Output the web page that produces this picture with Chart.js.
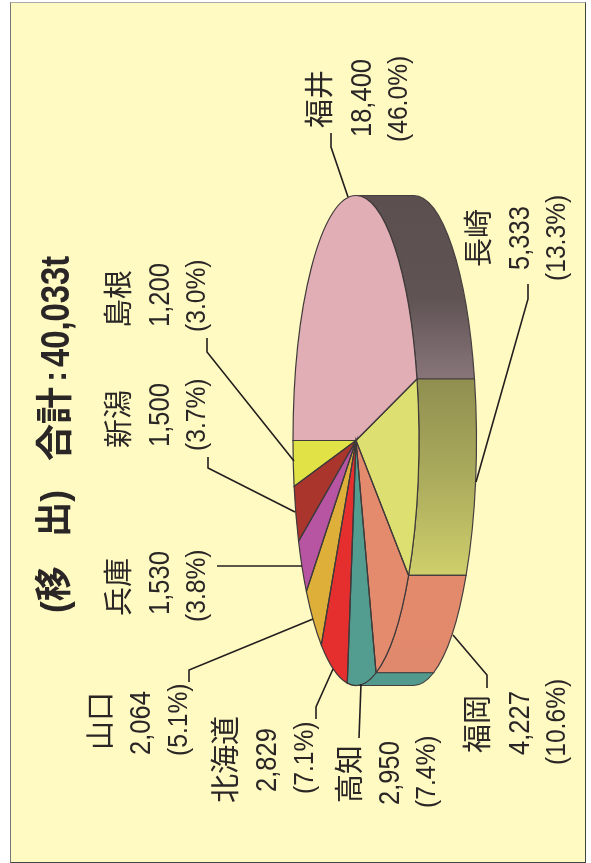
<!DOCTYPE html>
<html lang="ja">
<head>
<meta charset="utf-8">
<title>移出</title>
<script src="https://cdn.jsdelivr.net/npm/chart.js@4/dist/chart.umd.min.js"></script>
<style>
  html, body { margin: 0; padding: 0; background: #fff; width: 591px; height: 863px; overflow: hidden; }
  #marco { position: absolute; left: 10px; top: 2px; width: 574px; height: 859px; background: #fff9c2;
           border: 1px solid #444; border-top-color: #aaa; border-left-color: #777; }
  #grafico { position: absolute; left: 0; top: 0; }
  .t { position: absolute; white-space: nowrap; line-height: 1; color: #2a2626; transform-origin: 0 0;
       font-family: "Liberation Sans", "Noto Sans CJK JP", sans-serif; }
</style>
</head>
<body>
<div id="marco"></div>
<canvas id="grafico" width="591" height="863"></canvas>
<script>
// datos
const prefecturas = ['福井', '長崎', '福岡', '高知', '北海道', '山口', '兵庫', '新潟', '島根'];
const toneladas = [18400, 5333, 4227, 2950, 2829, 2064, 1530, 1500, 1200];
const porcentajes = ['46.0', '13.3', '10.6', '7.4', '7.1', '5.1', '3.8', '3.7', '3.0'];
const coloresTapa = ['#e2aeb5', '#dde070', '#e58b6d', '#539d90', '#e42f2e', '#deb03a', '#b855a2', '#aa352d', '#e0e245'];
const coloresLado = [
    ['#5b4f4f', '#5f5353', '#88757a'],
    ['#908f50', '#aeae5e', '#cfcf6c'],
    ['#e48a6c', '#e38a6c', '#df886c'],
    ['#529a8d', '#529a8d', '#529a8d']
];

// geometria del pastel (elipse girada)
const cx = 356, cy = 440.5, rx = 63, ry = 245, fondo = 57.5;

// x e y de cada columna de texto: nombre, valor, porcentaje, y de arranque
const posTextos = [
    [306, 346, 384, 128, 137, 142],
    [465, 504, 542, 267, 270, 281],
    [464, 504, 542, 753, 755, 765],
    [336, 374, 412, 803, 805, 808],
    [212, 251, 290, 803, 792, 794],
    [87, 125, 164, 750, 755, 756],
    [105, 144, 182, 616, 615, 622],
    [105, 144, 182, 448, 447, 451],
    [105, 144, 182, 328, 327, 332]
];

const guias = [
    [[331, 133], [331, 147], [348, 197]],
    [[528, 284], [528, 299], [476, 482]],
    [[487, 688], [487, 675], [453, 635]],
    [[359, 738], [361, 684]],
    [[316, 719], [316, 707], [333, 669]],
    [[189, 682], [189, 670], [313, 619]],
    [[217, 566], [302, 566]],
    [[208, 457], [208, 468], [295, 512]],
    [[207, 338], [207, 352], [294, 461]]
];

function texto(str, x, y, size, opts) {
    opts = opts || {};
    const d = document.createElement('div');
    d.className = 't';
    d.textContent = str;
    d.style.left = x + 'px';
    d.style.top = y + 'px';
    d.style.fontSize = size + 'px';
    if (opts.weight) d.style.fontWeight = opts.weight;
    d.style.transform = 'rotate(-90deg) scaleX(' + (opts.sx || 1) + ')';
    document.body.appendChild(d);
}

// titulo
texto('(移', 36, 613, 37, { weight: 'bold', sx: 0.95 });
texto('出)', 36, 537, 37, { weight: 'bold', sx: 0.95 });
texto('合計', 37, 461, 37, { weight: 'bold' });
texto(':', 37, 382, 34, { weight: 'bold' });
texto('40,033t', 35, 367, 40, { weight: 'bold', sx: 0.82 });

prefecturas.forEach((p, i) => {
    const q = posTextos[i];
    texto(p, q[0], q[3], 29);
    texto(toneladas[i].toLocaleString('en-US'), q[1], q[4], 30, { sx: 0.85 });
    texto('(' + porcentajes[i] + '%)', q[2], q[5], 28, { sx: 0.88 });
});

const pastel3d = {
    id: 'pastel3d',
    beforeDatasetsDraw(chart) {
        const ctx = chart.ctx;
        const arcos = chart.getDatasetMeta(0).data;
        // paredes del cilindro, solo la mitad derecha se ve
        arcos.forEach((a, i) => {
            const a0 = Math.max(a.startAngle, -Math.PI / 2);
            const a1 = Math.min(a.endAngle, Math.PI / 2);
            if (a1 <= a0 || !coloresLado[i]) return;
            const y0 = cy + ry * Math.sin(a0), y1 = cy + ry * Math.sin(a1);
            const g = ctx.createLinearGradient(0, y0, 0, y1);
            g.addColorStop(0, coloresLado[i][0]);
            g.addColorStop(0.55, coloresLado[i][1]);
            g.addColorStop(1, coloresLado[i][2]);
            ctx.beginPath();
            ctx.ellipse(cx, cy, rx, ry, 0, a0, a1);
            ctx.ellipse(cx + fondo, cy, rx, ry, 0, a1, a0, true);
            ctx.closePath();
            ctx.fillStyle = g;
            ctx.fill();
            ctx.strokeStyle = '#453f3f';
            ctx.lineWidth = 1.2;
            ctx.stroke();
        });
        // la tapa se aplasta desde el circulo que calcula Chart.js
        const r = arcos[0].outerRadius;
        ctx.save();
        ctx.translate(cx, cy);
        ctx.scale(rx / r, ry / r);
        ctx.translate(-arcos[0].x, -arcos[0].y);
    },
    afterDatasetsDraw(chart) {
        const ctx = chart.ctx;
        ctx.restore();
        const arcos = chart.getDatasetMeta(0).data;
        ctx.lineWidth = 1.2;
        arcos.forEach(a => {
            ctx.beginPath();
            ctx.moveTo(cx, cy);
            ctx.ellipse(cx, cy, rx, ry, 0, a.startAngle, a.endAngle);
            ctx.closePath();
            ctx.strokeStyle = '#3f3a3a';
            ctx.stroke();
        });
        // lineas guia
        ctx.strokeStyle = '#231f1f';
        ctx.lineWidth = 1.6;
        guias.forEach(g => {
            ctx.beginPath();
            g.forEach((p, i) => i ? ctx.lineTo(p[0], p[1]) : ctx.moveTo(p[0], p[1]));
            ctx.stroke();
        });
    }
};

new Chart(document.getElementById('grafico').getContext('2d'), {
    type: 'pie',
    data: {
        labels: prefecturas,
        datasets: [{ data: toneladas, backgroundColor: coloresTapa, borderWidth: 0 }]
    },
    options: {
        responsive: false,
        animation: false,
        rotation: -90,
        events: [],
        layout: { padding: { left: 121, top: 18 } },
        plugins: { legend: { display: false }, tooltip: { enabled: false } }
    },
    plugins: [pastel3d]
});
</script>
</body>
</html>
